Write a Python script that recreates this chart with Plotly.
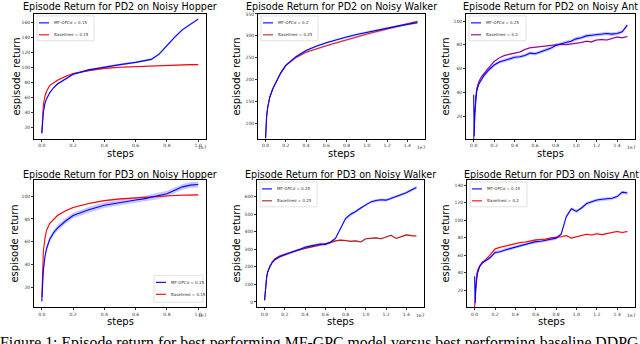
import plotly.graph_objects as go

# steps, in units of 1e7
hop_x = [0, 0.005, 0.01, 0.02, 0.03, 0.05, 0.075, 0.1, 0.15, 0.2, 0.3, 0.4,
         0.5, 0.6, 0.65, 0.7, 0.75, 0.8, 0.85, 0.9, 0.95, 1.0]
wk_x = [0, 0.005, 0.01, 0.02, 0.04, 0.07, 0.1, 0.15, 0.2, 0.3, 0.4, 0.5,
        0.6, 0.7, 0.8, 0.9, 1.0, 1.1, 1.2, 1.3, 1.4, 1.5]
long_x = [0, 0.005, 0.01, 0.02, 0.03, 0.05, 0.075, 0.1, 0.15, 0.2, 0.25, 0.3,
          0.35, 0.4, 0.45, 0.5, 0.55, 0.6, 0.65, 0.7, 0.75, 0.8, 0.85, 0.9,
          0.95, 1.0, 1.05, 1.1, 1.15, 1.2, 1.25, 1.3, 1.35, 1.4, 1.45, 1.5]

# PD2 Hopper
pd2_hop_mf = [12, 28, 40, 52, 58, 66, 73, 78, 85, 91, 97, 101,
              104, 107, 109, 111, 118, 130, 141, 151, 158, 165]
pd2_hop_base = [12, 35, 50, 62, 68, 76, 80, 83, 88, 92, 96, 99,
                100.5, 101.5, 102, 102.5, 103, 103, 103.5, 103.5, 104, 104]

# PD2 Walker
pd2_wk_mf = [65, 95, 115, 135, 158, 178, 192, 215, 232, 252, 266, 276,
             284, 291, 297, 303, 308, 313, 318, 322, 326, 330]
pd2_wk_base = [65, 95, 115, 135, 158, 178, 192, 215, 232, 250, 262, 270,
               277, 284, 290, 297, 304, 310, 316, 321, 327, 333]

# PD2 Ant
pd2_ant_mf = [38, 3, 22, 34, 41, 47, 51, 54, 59, 63, 65.5, 67, 68, 69.5, 70,
              71, 73, 72.5, 74, 75.5, 77, 79.5, 81, 82, 83, 85, 86, 87.5, 88,
              88.5, 89, 89.5, 89, 89.5, 91, 96.5]
pd2_ant_base = [0, 12, 25, 36, 43, 49, 53, 56, 61, 66, 69, 71, 72, 73, 74,
                76, 77.5, 78, 78.5, 79, 79.5, 80, 80.5, 80, 80.5, 81, 82, 83,
                82.5, 84, 84.5, 84, 85, 86.5, 86, 87]

# PD3 Hopper
pd3_hop_mf = [8, 25, 35, 47, 54, 62, 68, 72, 78, 83, 88, 92,
              94.5, 96.5, 97.5, 99, 100, 102, 105, 108, 109.5, 110]
pd3_hop_base = [12, 40, 52, 63, 70, 76, 80, 83, 87, 90, 93.5, 96,
                97.5, 98.5, 99, 99.5, 100, 100.2, 100.5, 100.7, 101, 101]

# PD3 Walker
pd3_wk_mf = [10, 60, 95, 140, 170, 200, 225, 240, 258, 270, 280, 290, 300,
             312, 318, 325, 330, 328, 340, 362, 420, 475, 500, 515, 535, 555,
             570, 578, 582, 580, 590, 600, 610, 622, 638, 652]
pd3_wk_base = [10, 60, 95, 140, 170, 200, 228, 245, 262, 272, 282, 292, 298,
               305, 312, 318, 322, 330, 338, 348, 352, 350, 345, 348, 342, 360,
               362, 365, 360, 368, 380, 362, 372, 382, 378, 376]

# PD3 Ant
pd3_ant_mf = [36, 5, 20, 32, 40, 47, 51, 53, 57, 63, 64, 66, 67.5, 69, 71,
              72.5, 74, 75.5, 76, 77, 78, 79.5, 84, 104, 113, 110, 114, 119,
              121, 123, 124, 124.5, 125, 127, 132, 131]
pd3_ant_base = [0, 15, 28, 38, 43, 48, 52, 54, 60, 67, 69, 70.5, 71.5, 73,
                74.5, 75, 76.5, 77.5, 78, 78.5, 80, 80.5, 81, 82.5, 79.5, 81,
                82.5, 84, 83, 84.5, 83.5, 85, 86, 87, 86, 87]

titles = ["Episode Return for PD2 on Noisy Hopper",
          "Episode Return for PD2 on Noisy Walker",
          "Episode Return for PD2 on Noisy Ant",
          "Episode Return for PD3 on Noisy Hopper",
          "Episode Return for PD3 on Noisy Walker",
          "Episode Return for PD3 on Noisy Ant"]
mf_labels = ["MF-GPCσ = 0.15", "MF-GPCσ = 0.2", "MF-GPCσ = 0.25",
             "MF-GPCσ = 0.15", "MF-GPCσ = 0.25", "MF-GPCσ = 0.15"]
base_labels = ["Baselineσ = 0.15", "Baselineσ = 0.25", "Baselineσ = 0.2",
               "Baselineσ = 0.15", "Baselineσ = 0.25", "Baselineσ = 0.2"]

W, H = 640, 344
# axes boxes in pixels: left, top, right, bottom
boxes = [(34, 12, 206, 138), (258, 12, 425, 138), (466, 12, 635, 138),
         (34, 179, 206, 307), (257, 179, 424, 307), (467, 179, 635, 307)]

BLUE = "#0000ff"
panels = [
    dict(x=hop_x, mf=pd2_hop_mf, base=pd2_hop_base, sd=(1.5, 0.8), col="#ff0000",
         xr=[-0.05, 1.05], yr=[4, 172], yt=list(range(20, 161, 20)), leg="ul", yl=17),
    dict(x=wk_x, mf=pd2_wk_mf, base=pd2_wk_base, sd=(2.5, 2.5), col="#c0282d",
         xr=[-0.075, 1.575], yr=[63, 350], yt=list(range(100, 351, 50)), leg="ul", yl=21),
    dict(x=long_x, mf=pd2_ant_mf, base=pd2_ant_base, sd=(1.5, 0.8), col="#8b008b",
         xr=[-0.075, 1.575], yr=[0.5, 106], yt=list(range(20, 101, 20)), leg="ul", yl=20),
    dict(x=hop_x, mf=pd3_hop_mf, base=pd3_hop_base, sd=(2.5, 0.6), col="#ff0000",
         xr=[-0.05, 1.05], yr=[3, 114], yt=list(range(20, 101, 20)), leg="lr", yl=19),
    dict(x=long_x, mf=pd3_wk_mf, base=pd3_wk_base, sd=(8, 5), col="#b01c1c",
         xr=[-0.075, 1.575], yr=[-30, 695], yt=list(range(0, 601, 100)), leg="ul", yl=20),
    dict(x=long_x, mf=pd3_ant_mf, base=pd3_ant_base, sd=(1.8, 0.8), col="#ff0000",
         xr=[-0.075, 1.575], yr=[0.5, 146], yt=list(range(20, 141, 20)), leg="ul", yl=21),
]


def rgba(hexcol, a):
    h = hexcol.lstrip("#")
    return "rgba(%d,%d,%d,%s)" % (int(h[0:2], 16), int(h[2:4], 16), int(h[4:6], 16), a)


fig = go.Figure()
axfont = dict(family="DejaVu Sans", size=4.5, color="#333")

for i, p in enumerate(panels):
    n = "" if i == 0 else str(i + 1)
    xa, ya = "x" + n, "y" + n
    L, T, R, B = boxes[i]
    for ys, sd, col in [(p["mf"], p["sd"][0], BLUE), (p["base"], p["sd"][1], p["col"])]:
        up = [v + sd for v in ys]
        lo = [v - sd for v in ys]
        fig.add_trace(go.Scatter(x=p["x"] + p["x"][::-1], y=up + lo[::-1], fill="toself",
                                 fillcolor=rgba(col, 0.22), line=dict(width=0),
                                 mode="lines", hoverinfo="skip", showlegend=False,
                                 xaxis=xa, yaxis=ya))
    fig.add_trace(go.Scatter(x=p["x"], y=p["base"], mode="lines", showlegend=False,
                             line=dict(color=p["col"], width=1.1), xaxis=xa, yaxis=ya))
    fig.add_trace(go.Scatter(x=p["x"], y=p["mf"], mode="lines", showlegend=False,
                             line=dict(color=BLUE, width=1.1), xaxis=xa, yaxis=ya))

    common = dict(showline=True, linecolor="black", linewidth=0.8, mirror=True,
                  showgrid=False, zeroline=False, ticks="outside", ticklen=2,
                  tickwidth=0.6, tickcolor="#333", tickfont=axfont)
    fig.update_layout(**{
        "xaxis" + n: dict(domain=[L / W, R / W], range=p["xr"], anchor=ya,
                          tickvals=[v / 10 for v in range(0, 16, 2) if v / 10 <= p["xr"][1]],
                          tickformat=".1f", **common),
        "yaxis" + n: dict(domain=[1 - B / H, 1 - T / H], range=p["yr"], anchor=xa,
                          tickvals=p["yt"], **common),
    })

    xd, yd = xa + " domain", ya + " domain"
    def px(x):
        return (x - L) / (R - L)
    def py(y):
        return (B - y) / (B - T)

    fig.add_annotation(text=titles[i], xref=xd, yref=yd, x=0.5, y=py(T - (7 if i < 3 else 5)),
                       showarrow=False, yanchor="middle",
                       font=dict(family="DejaVu Sans", size=9.6, color="black"))
    fig.add_annotation(text="steps", xref=xd, yref=yd, x=0.5, y=py(B + 14),
                       showarrow=False, yanchor="middle",
                       font=dict(family="DejaVu Sans", size=10, color="black"))
    fig.add_annotation(text="1e7", xref=xd, yref=yd, x=px(R + 3), y=py(B + 8.5), xanchor="right",
                       showarrow=False, yanchor="middle",
                       font=dict(family="DejaVu Sans", size=4.5, color="#333"))
    fig.add_annotation(text="espisode return", xref=xd, yref=yd, x=px(L - p["yl"]), y=0.5,
                       textangle=-90, showarrow=False, xanchor="center",
                       font=dict(family="DejaVu Sans", size=10, color="black"))

    # legend box
    if p["leg"] == "ul":
        bx0, by0, bx1, by1 = L + 3, T + 2, L + 60, T + 27
    else:
        bx0, by0, bx1, by1 = R - 52, B - 32, R - 3, B - 5
    fig.add_shape(type="rect", xref=xd, yref=yd, x0=px(bx0), x1=px(bx1), y0=py(by1), y1=py(by0),
                  line=dict(color="#cccccc", width=0.6), fillcolor="rgba(255,255,255,0.85)")
    for k, (lab, col) in enumerate([(mf_labels[i], BLUE), (base_labels[i], p["col"])]):
        ey = by0 + 7 + 12 * k
        fig.add_shape(type="line", xref=xd, yref=yd, x0=px(bx0 + 2), x1=px(bx0 + 12),
                      y0=py(ey), y1=py(ey), line=dict(color=col, width=1.1))
        fig.add_annotation(text=lab, xref=xd, yref=yd, x=px(bx0 + 15), y=py(ey),
                           xanchor="left", yanchor="middle", showarrow=False,
                           font=dict(family="DejaVu Sans", size=4, color="#333"))

fig.add_annotation(text="Figure 1: Episode return for best performing MF-GPC model versus best performing baseline DDPG",
                   xref="paper", yref="paper", x=0, xshift=-2, y=1 - 332 / H, xanchor="left", yanchor="top",
                   showarrow=False, font=dict(family="Liberation Serif", size=15.8, color="black"))

fig.update_layout(width=W, height=H, margin=dict(l=0, r=0, t=0, b=0),
                  paper_bgcolor="white", plot_bgcolor="white", showlegend=False)

fig.write_html("out.html", config={"displayModeBar": False},
               post_script="document.body.style.margin='0';")
